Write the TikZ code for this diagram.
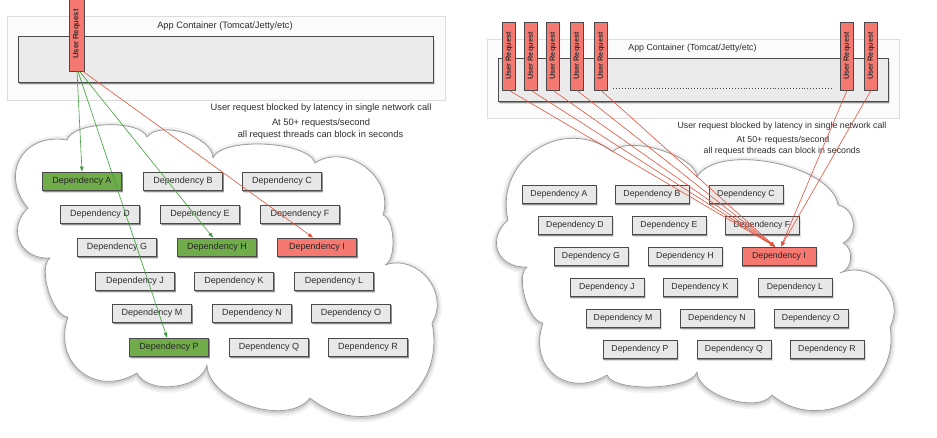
\documentclass[tikz,border=0pt]{standalone}
\usepackage{fontspec}
\setmainfont{Liberation Sans}
\usetikzlibrary{arrows.meta}
\pgfdeclarelayer{bg}
\pgfdeclarelayer{shad}
\pgfsetlayers{bg,shad,main}
\definecolor{boxgray}{HTML}{E8E8E8}
\definecolor{boxline}{HTML}{4A4A4A}
\definecolor{txtgray}{HTML}{2E2E2E}
\definecolor{depgreen}{RGB}{112,172,74}
\definecolor{reqred}{RGB}{245,120,113}
\definecolor{agreen}{RGB}{60,160,55}
\definecolor{ared}{RGB}{228,82,62}
\definecolor{contfill}{HTML}{FBFBFB}
\definecolor{contline}{HTML}{DDDDDD}
\definecolor{innerfill}{HTML}{EBEBEB}
\tikzset{
  lb/.style={bend left=70, looseness=#1},
  depL/.style={draw=boxline, fill=boxgray, line width=0.8pt, minimum width=79pt, minimum height=18pt,
    inner sep=0pt, text=txtgray, font=\fontsize{9}{10}\selectfont},
  depR/.style={depL, minimum width=74pt, font=\fontsize{8.7}{10}\selectfont},
  gdep/.style={fill=depgreen, text=black!85},
  rdep/.style={fill=reqred, text=black!85},
  ureqL/.style={draw=boxline, fill=reqred, line width=0.8pt, rotate=90, minimum width=74pt, minimum height=15pt,
    inner sep=0pt, text=black!80, font=\bfseries\fontsize{7.7}{9}\selectfont},
  ureqR/.style={ureqL, minimum width=68pt, minimum height=13.4pt, font=\bfseries\fontsize{7.4}{9}\selectfont},
  container/.style={draw=contline, fill=contfill, line width=0.6pt},
  inner/.style={draw=boxline, fill=innerfill, line width=0.8pt},
  shadfill/.style={fill=black!70, opacity=0.55},
  shadsoft/.style={fill=black!40, opacity=0.3},
  lblL/.style={text=txtgray, font=\fontsize{9.3}{11}\selectfont, inner sep=0pt},
  lblR/.style={text=txtgray, font=\fontsize{8.8}{10.5}\selectfont, inner sep=0pt},
  garrow/.style={draw=agreen, line width=0.6pt, -{Triangle[length=5pt,width=3.6pt]}},
  rarrow/.style={draw=ared, line width=0.6pt, -{Triangle[length=5pt,width=3.6pt]}},
  cloudsh1/.style={draw=black!5, line width=9pt, line join=round, yshift=-1.5pt},
  cloudsh2/.style={draw=black!10, line width=5.5pt, line join=round, yshift=-1.5pt},
  cloudsh3/.style={draw=black!20, line width=2.8pt, line join=round, yshift=-1pt},
  cloudmain/.style={fill=white, draw=black!40, line width=0.7pt, line join=round}
}
\newcommand\leftcloudpath{(28,208) to[lb=1.45] (67,140) to[lb=0.62] (147,137) to[lb=0.8] (213,158)
  to[lb=0.58] (315,163) to[lb=1.16] (383,215) to[lb=0.65] (385,265) to[lb=1.2] (432,323)
  to[lb=1.34] (310,398) to[lb=0.87] (207,365) to[lb=0.9] (137,373) to[lb=1.4] (68,317)
  to[lb=0.65] (50,258) to[lb=1.4] (28,208) -- cycle}
\newcommand\rightcloudpath{(508,220) to[lb=1.27] (613,152) to[lb=0.64] (697,177) to[lb=0.73] (838,205)
  to[lb=1.2] (843,243) to[lb=1.1] (840,273) to[lb=1.22] (890,327) to[lb=1.2] (772,395)
  to[lb=0.77] (697,372) to[lb=0.54] (607,375) to[lb=1.45] (543,323) to[lb=0.65] (527,267)
  to[lb=1.5] (508,220) -- cycle}
\begin{document}
\begin{tikzpicture}[x=1pt,y=-1pt]
\useasboundingbox (0,0) rectangle (937,437);
\begin{pgfonlayer}{bg}
\fill[white] (0,0) rectangle (937,437);
% left container
\path[container] (7,16) rectangle (445,100);
\path[shadsoft] (19.5,39.5) rectangle (434.5,85);
\path[shadfill] (18.8,38) rectangle (433.8,83.8);
\path[inner] (18,36) rectangle (433,82);
% right container
\path[container] (487,39) rectangle (899,118);
\path[shadsoft] (499.5,61.5) rectangle (889.5,104);
\path[shadfill] (498.8,60) rectangle (888.8,102.8);
\path[inner] (498,58) rectangle (888,101);
% clouds
\path[cloudsh1] \leftcloudpath;
\path[cloudsh2] \leftcloudpath;
\path[cloudsh3] \leftcloudpath;
\path[cloudmain] \leftcloudpath;
\path[cloudsh1] \rightcloudpath;
\path[cloudsh2] \rightcloudpath;
\path[cloudsh3] \rightcloudpath;
\path[cloudmain] \rightcloudpath;
\end{pgfonlayer}

% ---------------- left panel ----------------
\node[lblL] (lcont) at (225,26) {App Container (Tomcat/Jetty/etc)};
\node[ureqL] (LUR) at (76.5,34) {User Request};
\node[lblL] (lt1) at (321,108) {User request blocked by latency in single network call};
\node[lblL] (lt2) at (321,123) {At 50+ requests/second};
\node[lblL] (lt3) at (320.5,135) {all request threads can block in seconds};

\node[depL,gdep] (LA) at (82,181) {Dependency A};
\node[depL] (LB) at (183,181) {Dependency B};
\node[depL] (LC) at (282,181) {Dependency C};
\node[depL] (LD) at (100,214) {Dependency D};
\node[depL] (LE) at (200,214) {Dependency E};
\node[depL] (LF) at (300,214) {Dependency F};
\node[depL] (LG) at (117,247) {Dependency G};
\node[depL,gdep] (LH) at (217,247) {Dependency H};
\node[depL,rdep] (LI) at (317,247) {Dependency I};
\node[depL] (LJ) at (135,281) {Dependency J};
\node[depL] (LK) at (234,281) {Dependency K};
\node[depL] (LL) at (334,281) {Dependency L};
\node[depL] (LM) at (152,313) {Dependency M};
\node[depL] (LN) at (252,313) {Dependency N};
\node[depL] (LO) at (351,313) {Dependency O};
\node[depL,gdep] (LP) at (169,347) {Dependency P};
\node[depL] (LQ) at (269,347) {Dependency Q};
\node[depL] (LR) at (368,347) {Dependency R};

\draw[garrow] ([xshift=0.5pt]LUR.west) -- (LA.north);
\draw[garrow] ([xshift=1.5pt]LUR.west) -- ([xshift=-2pt]LP.north);
\draw[garrow] ([xshift=3pt]LUR.west) -- ([xshift=-4pt]LH.north);
\draw[rarrow] ([xshift=6.5pt]LUR.west) -- ([xshift=-4pt]LI.north);

% ---------------- right panel ----------------
\node[lblR] (rcont) at (692.5,48) {App Container (Tomcat/Jetty/etc)};
\draw[boxline, line width=0.9pt, dotted] (613,88) coordinate (dotA) -- (833,88) coordinate (dotB);
\node[ureqR] (RU1) at (509,56) {User Request};
\node[ureqR] (RU2) at (531,56) {User Request};
\node[ureqR] (RU3) at (553,56) {User Request};
\node[ureqR] (RU4) at (577,56) {User Request};
\node[ureqR] (RU5) at (601,56) {User Request};
\node[ureqR] (RU6) at (847,56) {User Request};
\node[ureqR] (RU7) at (871,56) {User Request};
\node[lblR] (rt1) at (782,126) {User request blocked by latency in single network call};
\node[lblR] (rt2) at (783,140) {At 50+ requests/second};
\node[lblR] (rt3) at (782,151) {all request threads can block in seconds};

\node[depR] (RA) at (559,194) {Dependency A};
\node[depR] (RB) at (652,194) {Dependency B};
\node[depR] (RC) at (746,194) {Dependency C};
\node[depR] (RD) at (575,225) {Dependency D};
\node[depR] (RE) at (669,225) {Dependency E};
\node[depR] (RF) at (762,225) {Dependency F};
\node[depR] (RG) at (591,256) {Dependency G};
\node[depR] (RH) at (685,256) {Dependency H};
\node[depR,rdep] (RI) at (779,256) {Dependency I};
\node[depR] (RJ) at (607,287) {Dependency J};
\node[depR] (RK) at (700,287) {Dependency K};
\node[depR] (RL) at (795,287) {Dependency L};
\node[depR] (RM) at (623,318) {Dependency M};
\node[depR] (RN) at (717,318) {Dependency N};
\node[depR] (RO) at (811,318) {Dependency O};
\node[depR] (RP) at (640,349) {Dependency P};
\node[depR] (RQ) at (734,349) {Dependency Q};
\node[depR] (RR) at (827,349) {Dependency R};

% box shadows
\begin{pgfonlayer}{shad}
\foreach \n in {LA,LB,LC,LD,LE,LF,LG,LH,LI,LJ,LK,LL,LM,LN,LO,LP,LQ,LR,RA,RB,RC,RD,RE,RF,RG,RH,RI,RJ,RK,RL,RM,RN,RO,RP,RQ,RR}{
  \path[shadsoft] ([shift={(1.5pt,-3pt)}]\n.south west) rectangle ([shift={(1.5pt,-3pt)}]\n.north east);
  \path[shadfill] ([shift={(0.8pt,-1.8pt)}]\n.south west) rectangle ([shift={(0.8pt,-1.8pt)}]\n.north east);
}
\end{pgfonlayer}

\foreach \u in {RU1,RU2,RU3,RU4,RU5}
  \draw[rarrow] (\u.west) -- ([xshift=-4pt]RI.north);
\foreach \u in {RU6,RU7}
  \draw[rarrow] (\u.west) -- ([xshift=2pt]RI.north);
\end{tikzpicture}
\end{document}
